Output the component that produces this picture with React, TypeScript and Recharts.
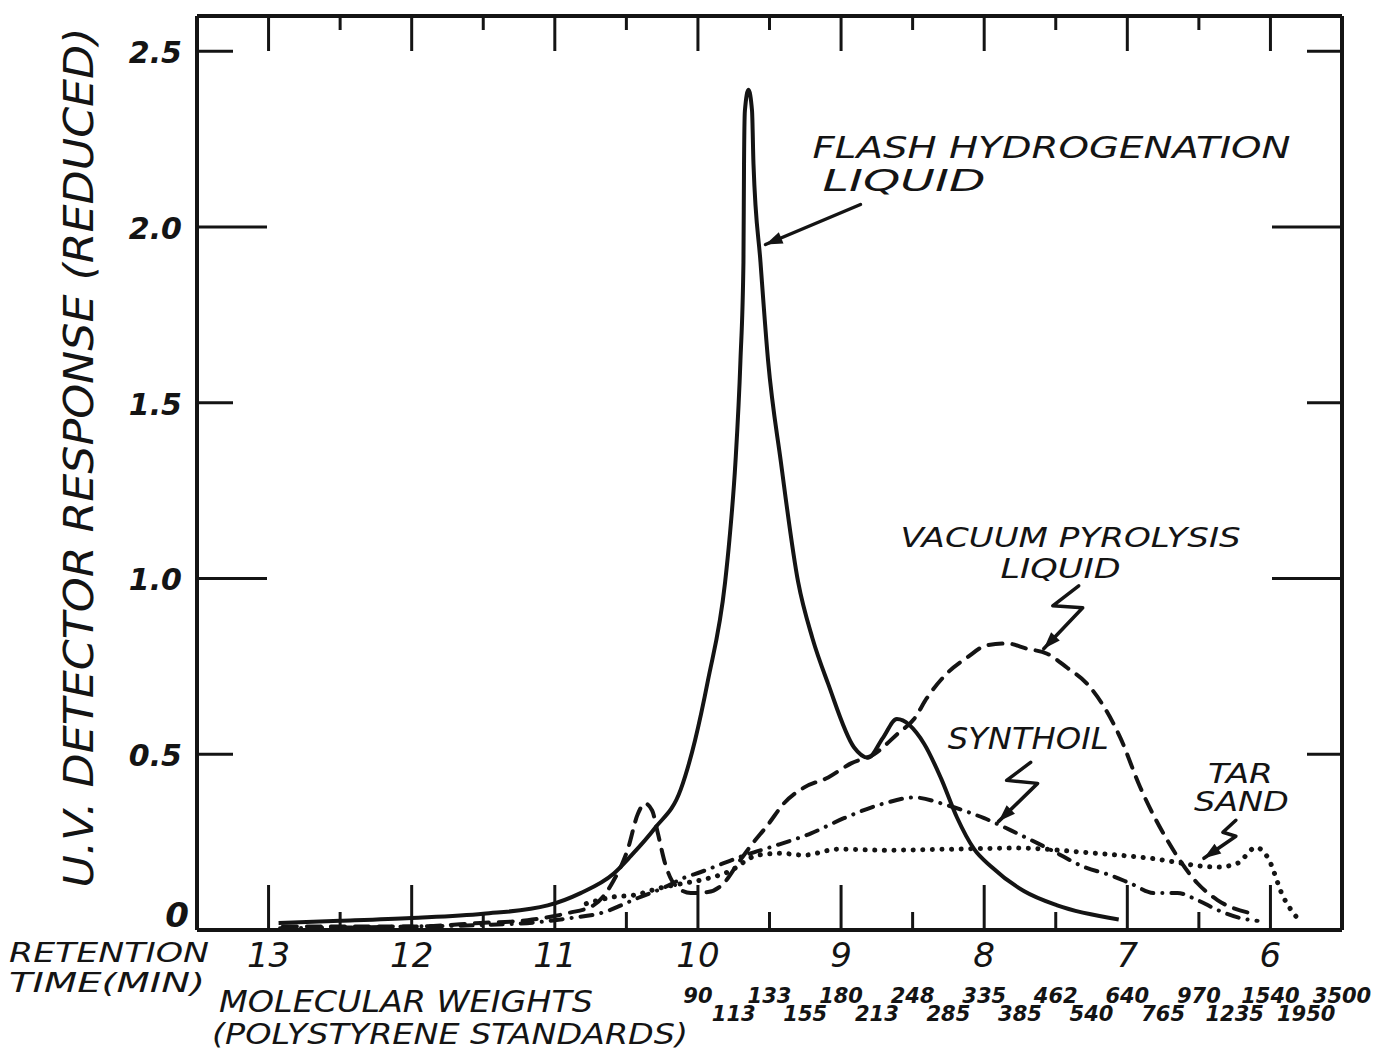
import React from 'react';
import { LineChart, Line, XAxis, YAxis, ReferenceDot } from 'recharts';

const INK = '#141414';
const HAND = '"DejaVu Sans", "Liberation Sans", sans-serif';

// retention time axis (min), runs from 13.5 on the left to 5.5 on the right
const timeDomain: [number, number] = [5.5, 13.5];
const retentionTicks = [13, 12, 11, 10, 9, 8, 7, 6];
const halfTicks = [12.5, 11.5, 10.5, 9.5, 8.5, 7.5, 6.5];

// polystyrene standards written under the time axis
const mwTimes = [10, 9.75, 9.5, 9.25, 9, 8.75, 8.5, 8.25, 8, 7.75, 7.5, 7.25, 7, 6.75, 6.5, 6.25, 6, 5.75, 5.5];
const mwLabels = ['90', '113', '133', '155', '180', '213', '248', '285', '335', '385', '462', '540', '640', '765', '970', '1235', '1540', '1950', '3500'];

const responseTicks = [0, 0.5, 1, 1.5, 2, 2.5];

// flash hydrogenation liquid (solid)
const flashTime = [12.93, 12.5, 12.0, 11.5, 11.05, 10.82, 10.59, 10.47, 10.3, 10.12, 10.02, 9.93, 9.81, 9.78, 9.738, 9.703, 9.682, 9.678, 9.672, 9.647, 9.622, 9.612, 9.563, 9.51, 9.42, 9.3, 9.2, 9.09, 8.91, 8.81, 8.71, 8.61, 8.42, 8.3, 8.19, 8.07, 7.95, 7.72, 7.49, 7.06];
const flashResp = [0.02, 0.026, 0.034, 0.046, 0.07, 0.105, 0.16, 0.21, 0.29, 0.4, 0.54, 0.71, 0.99, 1.11, 1.33, 1.62, 1.9, 2.18, 2.33, 2.39, 2.33, 2.18, 1.9, 1.62, 1.33, 0.99, 0.83, 0.7, 0.52, 0.49, 0.545, 0.6, 0.53, 0.43, 0.32, 0.23, 0.18, 0.11, 0.07, 0.03];

// vacuum pyrolysis liquid (long dash)
const vacTime = [12.9, 12.0, 11.52, 11.19, 10.91, 10.73, 10.59, 10.49, 10.42, 10.37, 10.32, 10.28, 10.23, 10.16, 10.05, 9.93, 9.82, 9.72, 9.63, 9.51, 9.4, 9.26, 9.09, 8.93, 8.77, 8.6, 8.49, 8.4, 8.26, 8.12, 7.98, 7.84, 7.7, 7.56, 7.42, 7.28, 7.16, 7.05, 6.91, 6.72, 6.51, 6.37, 6.14];
const vacResp = [0.01, 0.01, 0.02, 0.028, 0.048, 0.07, 0.14, 0.23, 0.33, 0.36, 0.34, 0.275, 0.19, 0.128, 0.105, 0.108, 0.133, 0.19, 0.24, 0.3, 0.36, 0.405, 0.434, 0.474, 0.5, 0.56, 0.6, 0.66, 0.73, 0.775, 0.81, 0.815, 0.8, 0.786, 0.746, 0.7, 0.633, 0.548, 0.406, 0.255, 0.133, 0.085, 0.048];

// synthoil (dash-dot)
const synTime = [12.92, 12.0, 11.52, 11.1, 10.89, 10.68, 10.42, 10.23, 10.1, 9.98, 9.82, 9.67, 9.49, 9.21, 8.98, 8.7, 8.49, 8.26, 8.0, 7.77, 7.53, 7.3, 7.12, 6.98, 6.81, 6.65, 6.51, 6.37, 6.21, 6.09];
const synResp = [0.005, 0.01, 0.014, 0.023, 0.034, 0.048, 0.091, 0.122, 0.148, 0.165, 0.19, 0.213, 0.236, 0.275, 0.318, 0.36, 0.377, 0.355, 0.318, 0.275, 0.227, 0.179, 0.156, 0.133, 0.105, 0.105, 0.085, 0.057, 0.034, 0.026];

// tar sand (dotted)
const tarTime = [10.78, 10.59, 10.45, 10.26, 10.1, 9.98, 9.79, 9.58, 9.42, 9.26, 9.02, 8.7, 8.23, 7.77, 7.3, 6.84, 6.37, 6.23, 6.1, 6.02, 5.91, 5.8];
const tarResp = [0.075, 0.094, 0.099, 0.12, 0.133, 0.142, 0.165, 0.213, 0.218, 0.213, 0.23, 0.227, 0.23, 0.233, 0.221, 0.204, 0.179, 0.19, 0.235, 0.207, 0.094, 0.028];

const toPoints = (ts: number[], vs: number[]) => ts.map((t, i) => ({ t, v: vs[i] }));

const bottomTicks = Array.from(new Set([...retentionTicks, ...halfTicks, ...mwTimes])).sort((a, b) => b - a);
const frameTicks = [...retentionTicks, ...halfTicks].sort((a, b) => b - a);

const handText = {
  fontFamily: HAND,
  fontStyle: 'italic' as const,
  fill: INK,
};

const BottomTick = (props: any) => {
  const { x, y, payload } = props;
  const t = payload.value;
  const whole = retentionTicks.includes(t);
  const half = halfTicks.includes(t);
  const k = mwTimes.indexOf(t);
  return (
    <g>
      {(whole || half) && (
        <line x1={x} x2={x} y1={y} y2={y - (whole ? 45 : 18)} stroke={INK} strokeWidth={3} />
      )}
      {whole && (
        <text x={x} y={y + 37} textAnchor="middle" fontSize={34} {...handText}>
          {t}
        </text>
      )}
      {k >= 0 && (
        <text x={x} y={y + (k % 2 ? 91 : 73)} textAnchor="middle" fontSize={21} fontWeight="bold" {...handText}>
          {mwLabels[k]}
        </text>
      )}
    </g>
  );
};

const TopTick = (props: any) => {
  const { x, y, payload } = props;
  const whole = retentionTicks.includes(payload.value);
  return <line x1={x} x2={x} y1={y} y2={y + (whole ? 35 : 14)} stroke={INK} strokeWidth={3} />;
};

const LeftTick = (props: any) => {
  const { x, y, payload } = props;
  const v = payload.value;
  if (v === 0) {
    return (
      <text x={x - 20} y={y - 3} textAnchor="middle" fontSize={34} fontWeight="bold" {...handText}>
        0
      </text>
    );
  }
  const long = Number.isInteger(v);
  return (
    <g>
      <line x1={x} x2={x + (long ? 70 : 36)} y1={y} y2={y} stroke={INK} strokeWidth={3} />
      <text x={x - 15} y={y + 12} textAnchor="end" fontSize={30} fontWeight="bold" {...handText}>
        {v.toFixed(1)}
      </text>
    </g>
  );
};

const RightTick = (props: any) => {
  const { x, y, payload } = props;
  const v = payload.value;
  if (v === 0) return <g />;
  const long = Number.isInteger(v);
  return <line x1={x} x2={x - (long ? 70 : 35)} y1={y} y2={y} stroke={INK} strokeWidth={3} />;
};

const YTitle = (props: any) => {
  const { viewBox } = props;
  const cx = viewBox.x + 71;
  const cy = viewBox.y + viewBox.height * 0.483;
  return (
    <text
      x={cx}
      y={cy}
      textAnchor="middle"
      dominantBaseline="central"
      transform={`rotate(-90, ${cx}, ${cy})`}
      fontSize={40}
      textLength={860}
      lengthAdjust="spacingAndGlyphs"
      {...handText}
    >
      U.V. DETECTOR RESPONSE (REDUCED)
    </text>
  );
};

const XTitles = (props: any) => {
  const { viewBox } = props;
  const x = viewBox.x;
  const y = viewBox.y;
  const line = (dx: number, dy: number, len: number, size: number, s: string) => (
    <text x={x + dx} y={y + dy} fontSize={size} textLength={len} lengthAdjust="spacingAndGlyphs" {...handText}>
      {s}
    </text>
  );
  return (
    <g>
      {line(-188, 32, 200, 26, 'RETENTION')}
      {line(-188, 62, 196, 26, 'TIME(MIN)')}
      {line(22, 82, 374, 31, 'MOLECULAR WEIGHTS')}
      {line(15, 114, 476, 29, '(POLYSTYRENE STANDARDS)')}
    </g>
  );
};

const Caption = ({ x, y, len, size, children }: any) => (
  <text x={x} y={y} fontSize={size} textLength={len} lengthAdjust="spacingAndGlyphs" {...handText}>
    {children}
  </text>
);

// zig-zag pointer, points given relative to the tip, last one is the tip
const Bolt = ({ cx, cy, pts }: { cx: number; cy: number; pts: number[][] }) => {
  const d = pts.map(([dx, dy], i) => `${i ? 'L' : 'M'}${cx + dx},${cy + dy}`).join(' ');
  const [px, py] = pts[pts.length - 2];
  const len = Math.hypot(px, py);
  const ux = -px / len;
  const uy = -py / len;
  const bx = cx - ux * 17;
  const by = cy - uy * 17;
  const nx = -uy * 6;
  const ny = ux * 6;
  return (
    <g>
      <path d={d} fill="none" stroke={INK} strokeWidth={3.5} strokeLinejoin="round" strokeLinecap="round" />
      <path d={`M${cx},${cy} L${bx + nx},${by + ny} L${bx - nx},${by - ny} Z`} fill={INK} />
    </g>
  );
};

export default function App() {
  return (
    <div style={{ width: 1365, height: 1040 }}>
      <LineChart width={1365} height={1048} margin={{ top: 7, right: 30, left: 0, bottom: 0 }}>
        <XAxis
          dataKey="t"
          type="number"
          domain={timeDomain}
          reversed
          allowDataOverflow
          ticks={bottomTicks}
          interval={0}
          tickSize={0}
          tickMargin={0}
          tick={<BottomTick />}
          height={126}
          axisLine={{ stroke: INK, strokeWidth: 4 }}
          label={(p: any) => <XTitles {...p} />}
        />
        <XAxis
          xAxisId="top"
          orientation="top"
          dataKey="t"
          type="number"
          domain={timeDomain}
          reversed
          allowDataOverflow
          ticks={frameTicks}
          interval={0}
          tickSize={0}
          tickMargin={0}
          tick={<TopTick />}
          height={1}
          axisLine={{ stroke: INK, strokeWidth: 4 }}
        />
        <YAxis
          type="number"
          domain={[0, 2.6]}
          allowDataOverflow
          ticks={responseTicks}
          interval={0}
          tickSize={0}
          tickMargin={0}
          tick={<LeftTick />}
          width={189}
          axisLine={{ stroke: INK, strokeWidth: 4 }}
          label={(p: any) => <YTitle {...p} />}
        />
        <YAxis
          yAxisId="right"
          orientation="right"
          type="number"
          domain={[0, 2.6]}
          allowDataOverflow
          ticks={responseTicks}
          interval={0}
          tickSize={0}
          tickMargin={0}
          tick={<RightTick />}
          width={1}
          axisLine={{ stroke: INK, strokeWidth: 4 }}
        />

        <Line
          data={toPoints(flashTime, flashResp)}
          dataKey="v"
          type="monotone"
          stroke={INK}
          strokeWidth={4}
          dot={false}
          activeDot={false}
          isAnimationActive={false}
        />
        <Line
          data={toPoints(vacTime, vacResp)}
          dataKey="v"
          type="monotone"
          stroke={INK}
          strokeWidth={4}
          strokeDasharray="14 10"
          strokeLinecap="round"
          dot={false}
          activeDot={false}
          isAnimationActive={false}
        />
        <Line
          data={toPoints(synTime, synResp)}
          dataKey="v"
          type="monotone"
          stroke={INK}
          strokeWidth={4}
          strokeDasharray="12 9 0.1 9"
          strokeLinecap="round"
          dot={false}
          activeDot={false}
          isAnimationActive={false}
        />
        <Line
          data={toPoints(tarTime, tarResp)}
          dataKey="v"
          type="monotone"
          stroke={INK}
          strokeWidth={5}
          strokeDasharray="0.1 9.5"
          strokeLinecap="round"
          dot={false}
          activeDot={false}
          isAnimationActive={false}
        />

        <ReferenceDot
          x={9.199}
          y={2.196}
          r={0}
          ifOverflow="visible"
          shape={(p: any) => (
            <g>
              <Caption x={p.cx} y={p.cy} len={478} size={30}>FLASH HYDROGENATION</Caption>
              <Caption x={p.cx + 10} y={p.cy + 33} len={163} size={30}>LIQUID</Caption>
            </g>
          )}
        />
        <ReferenceDot
          x={9.528}
          y={1.95}
          r={0}
          ifOverflow="visible"
          shape={(p: any) => <Bolt cx={p.cx} cy={p.cy} pts={[[95, -40], [0, 0]]} />}
        />
        <ReferenceDot
          x={8.584}
          y={1.09}
          r={0}
          ifOverflow="visible"
          shape={(p: any) => (
            <g>
              <Caption x={p.cx} y={p.cy} len={340} size={27}>VACUUM PYROLYSIS</Caption>
              <Caption x={p.cx + 100} y={p.cy + 31} len={120} size={27}>LIQUID</Caption>
            </g>
          )}
        />
        <ReferenceDot
          x={7.584}
          y={0.8}
          r={0}
          ifOverflow="visible"
          shape={(p: any) => <Bolt cx={p.cx} cy={p.cy} pts={[[35, -63], [9, -43], [39, -41], [0, 0]]} />}
        />
        <ReferenceDot
          x={8.255}
          y={0.516}
          r={0}
          ifOverflow="visible"
          shape={(p: any) => <Caption x={p.cx} y={p.cy} len={161} size={30}>SYNTHOIL</Caption>}
        />
        <ReferenceDot
          x={7.899}
          y={0.309}
          r={0}
          ifOverflow="visible"
          shape={(p: any) => <Bolt cx={p.cx} cy={p.cy} pts={[[32, -59], [8, -41], [39, -38], [0, 0]]} />}
        />
        <ReferenceDot
          x={6.437}
          y={0.417}
          r={0}
          ifOverflow="visible"
          shape={(p: any) => (
            <g>
              <Caption x={p.cx} y={p.cy} len={65} size={27}>TAR</Caption>
              <Caption x={p.cx - 14} y={p.cy + 28} len={95} size={27}>SAND</Caption>
            </g>
          )}
        />
        <ReferenceDot
          x={6.465}
          y={0.204}
          r={0}
          ifOverflow="visible"
          shape={(p: any) => <Bolt cx={p.cx} cy={p.cy} pts={[[32, -38], [19, -26], [32, -22], [0, 0]]} />}
        />
      </LineChart>
    </div>
  );
}
